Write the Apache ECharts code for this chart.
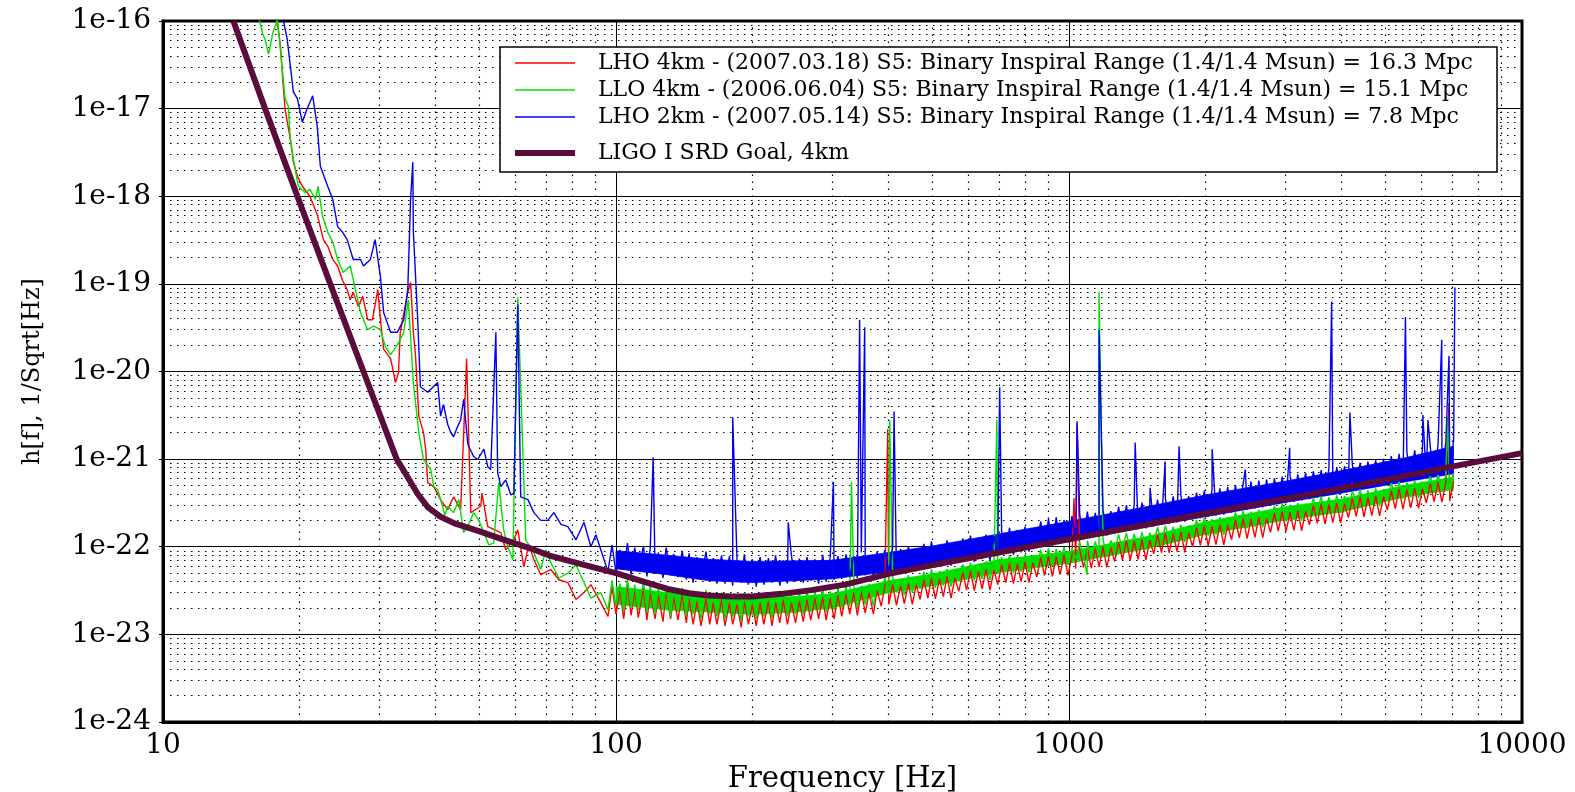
<!DOCTYPE html>
<html>
<head>
<meta charset="utf-8">
<script src="https://cdn.jsdelivr.net/npm/echarts@6/dist/echarts.min.js"></script>
<style>
html,body{margin:0;padding:0;background:#fff;}
#chart{width:1575px;height:792px;}
</style>
</head>
<body>
<div id="chart"></div>
<script>
// ---------------- DATA ----------------
const seriesNames = [
  'LHO 4km - (2007.03.18) S5: Binary Inspiral Range (1.4/1.4 Msun) = 16.3 Mpc',
  'LLO 4km - (2006.06.04) S5: Binary Inspiral Range (1.4/1.4 Msun) = 15.1 Mpc',
  'LHO 2km - (2007.05.14) S5: Binary Inspiral Range (1.4/1.4 Msun) = 7.8 Mpc',
  'LIGO I SRD Goal, 4km'
];
const minorMultipliers = [2, 3, 4, 5, 6, 7, 8, 9];
const xDecades = [10, 100, 1000];
const yDecades = [1e-24, 1e-23, 1e-22, 1e-21, 1e-20, 1e-19, 1e-18, 1e-17];

// Low-frequency parts of each spectrum: [Hz, 1/sqrt(Hz)]
const lho4kmLow = [[17.7,1.37e-16],[18.15,5.5e-17],[18.4,2.0e-17],[18.6,9.9e-18],[19.1,4.5e-18],[19.4,2.45e-18],[19.8,1.7e-18],[20.3,1.3e-18],[21.1,1.0e-18],[21.9,6.2e-19],[22.6,3.2e-19],[23.1,2.7e-19],[23.7,1.9e-19],[24.3,1.6e-19],[24.9,1.1e-19],[25.5,8.6e-20],[25.9,6.6e-20],[26.3,8.0e-20],[27.0,5.5e-20],[27.6,7.2e-20],[28.3,3.9e-20],[29.0,3.9e-20],[29.8,8.6e-20],[30.2,3.9e-20],[30.7,1.8e-20],[31.8,1.4e-20],[32.6,7.5e-21],[33.1,9.7e-21],[33.4,2.8e-20],[34.7,8.0e-20],[35.2,1.04e-19],[35.7,2.8e-20],[36.1,1.5e-20],[36.7,3.1e-21],[37.6,2.0e-21],[38.0,1.3e-21],[38.4,5.4e-22],[39.6,4.85e-22],[41.0,3.45e-22],[42.5,2.65e-22],[43.8,3.7e-22],[45.4,2.65e-22],[47.8,2.45e-22],[50.3,2.9e-22],[52.1,1.7e-22],[55.7,1.45e-22],[57.1,9.2e-23],[59.5,1.2e-22],[60.7,1.56e-22],[62.6,5.9e-23],[64.2,1.05e-22],[65.9,7.1e-23],[68.2,4.8e-23],[71.8,5.5e-23],[74.8,4.2e-23],[78.3,3.9e-23],[81.6,2.5e-23],[85.0,3.0e-23],[88.0,3.7e-23],[92.6,2.3e-23]];
const llo4kmLow = [[16.2,1.2e-16],[16.6,7.1e-17],[16.8,6.2e-17],[17.1,4.2e-17],[17.25,5.2e-17],[17.5,7.5e-17],[17.9,1.05e-16],[18.15,4.8e-17],[18.4,2.35e-17],[18.6,1.3e-17],[18.9,1.07e-17],[19.1,4.5e-18],[19.4,2.65e-18],[19.9,1.3e-18],[20.6,1.1e-18],[21.1,1.2e-18],[21.7,9.2e-19],[22.0,1.3e-18],[22.5,5.9e-19],[23.1,3.9e-19],[23.7,3.0e-19],[24.3,1.9e-19],[25.0,1.35e-19],[25.9,1.6e-19],[26.6,8.6e-20],[27.3,4.7e-20],[28.3,3.0e-20],[29.2,3.3e-20],[30.2,3.0e-20],[31.0,1.9e-20],[31.8,1.56e-20],[32.9,2.0e-20],[34.0,2.8e-20],[34.8,6.6e-20],[35.7,7.5e-21],[36.7,2.0e-21],[37.6,9.9e-22],[39.0,7.6e-22],[39.6,4.85e-22],[40.4,4.5e-22],[41.0,3.45e-22],[41.9,2.3e-22],[42.5,2.9e-22],[43.8,2.45e-22],[45.0,3.45e-22],[46.1,1.45e-22],[47.3,1.8e-22],[48.5,2.45e-22],[49.8,2.0e-22],[51.1,1.45e-22],[52.4,1.05e-22],[53.7,1.1e-22],[56.5,1.56e-22],[57.7,1.0e-22],[59.2,7.1e-23],[63.2,1.2e-22],[65.9,8.5e-23],[68.2,5.5e-23],[70.0,9.2e-23],[71.8,6.6e-23],[74.8,4.4e-23],[78.3,5.0e-23],[81.6,6.2e-23],[85.0,3.9e-23],[88.0,2.6e-23],[92.6,3.0e-23]];
const lho2kmLow = [[18.2,1.4e-16],[18.8,6.2e-17],[19.1,3.1e-17],[19.4,1.55e-17],[19.8,1.3e-17],[20.3,7.0e-18],[20.8,9.9e-18],[21.4,1.4e-17],[21.9,6.3e-18],[22.25,2.2e-18],[23.1,1.3e-18],[23.7,9.2e-19],[24.3,4.5e-19],[24.9,3.9e-19],[25.5,3.2e-19],[26.3,1.9e-19],[27.3,1.9e-19],[27.7,1.6e-19],[28.7,1.9e-19],[29.4,3.2e-19],[30.2,1.2e-19],[30.7,4.7e-20],[31.8,2.8e-20],[32.9,2.8e-20],[34.0,3.9e-20],[34.7,8.6e-20],[35.2,9.2e-19],[35.6,2.45e-18],[35.7,3.9e-19],[36.5,3.9e-20],[37.0,6.7e-21],[38.4,5.8e-21],[40.4,7.5e-21],[41.0,3.1e-21],[41.6,4.2e-21],[42.5,2.5e-21],[43.2,2.0e-21],[43.8,1.8e-21],[44.7,2.35e-21],[45.4,2.8e-21],[46.1,4.8e-21],[47.1,1.47e-21],[48.5,1.07e-21],[49.5,9.9e-22],[51.1,1.3e-21],[52.1,8.2e-22],[52.9,7.6e-22],[54.8,7.0e-22],[55.7,4.85e-22],[57.1,5.8e-22],[58.6,3.9e-22],[59.5,4.1e-22],[61.6,3.7e-22],[63.9,3.45e-22],[65.9,2.45e-22],[68.2,2.0e-22],[70.7,2.0e-22],[72.9,2.45e-22],[75.6,1.8e-22],[78.3,1.7e-22],[81.6,1.2e-22],[85.0,1.9e-22],[88.0,1.0e-22],[90.3,1.37e-22],[92.6,9.2e-23]];

// Dense noise band, 96 Hz .. 7 kHz: shared frequencies [Hz]
const bandFreq = [
  96,98,100,102,104,106,108,110,112,115,
  117,119,122,124,127,129,132,134,137,140,
  143,145,148,151,154,158,161,164,167,171,
  174,178,181,185,189,192,196,200,204,208,
  212,217,221,225,230,234,239,244,249,254,
  259,264,269,275,280,286,291,297,303,309,
  315,322,328,335,341,348,355,362,370,377,
  385,392,400,408,416,425,433,442,451,460,
  469,478,488,497,507,518,528,538,549,560,
  571,583,594,606,618,631,643,656,669,683,
  696,710,725,739,754,769,784,800,816,832,
  849,866,883,901,919,937,956,975,995,1015,
  1035,1056,1077,1098,1120,1143,1165,1189,1212,1237,
  1261,1287,1312,1339,1365,1393,1421,1449,1478,1508,
  1538,1568,1600,1632,1664,1698,1732,1766,1801,1837,
  1874,1912,1950,1989,2029,2069,2111,2153,2196,2240,
  2285,2330,2377,2424,2473,2522,2573,2624,2677,2730,
  2785,2841,2897,2955,3014,3075,3136,3199,3263,3328,
  3395,3463,3532,3603,3675,3748,3823,3900,3978,4057,
  4138,4221,4306,4392,4480,4569,4661,4754,4849,4946,
  5045,5146,5249,5354,5461,5570,5682,5795,5911,6029,
  6150,6273,6398,6526,6657,6790,6926,7064
];
// Band values in units of 1e-23 /sqrt(Hz)
const BAND_UNIT = 1e-23;
const lho4kmBand = [
  1.6,3.5,1.7,3.2,1.5,3.7,1.65,3.3,1.55,3.4,
  1.45,3.0,1.5,2.8,1.4,3.1,1.5,2.7,1.45,2.9,
  1.35,2.6,1.3,2.4,1.25,2.6,1.3,2.3,1.3,2.5,
  1.25,2.3,1.3,2.2,1.2,2.4,1.3,2.2,1.25,2.3,
  1.3,2.4,1.25,2.3,1.35,2.5,1.3,2.3,1.35,2.4,
  1.4,2.5,1.45,2.6,1.5,2.7,1.45,2.6,1.5,2.8,
  1.6,2.9,1.7,3.0,1.65,3.1,1.75,3.0,1.7,3.2,
  2.1,3.5,2.2,3.7,2.15,3.6,2.25,3.8,2.2,3.7,
  2.5,4.2,2.6,4.4,2.55,4.3,2.7,4.6,2.6,4.4,
  3.1,5.1,3.2,5.3,3.15,5.2,3.3,5.5,3.2,5.4,
  3.7,6.2,3.9,6.5,3.8,6.4,4.0,6.7,3.9,6.6,
  4.5,7.5,4.7,7.8,4.6,7.7,4.8,8.1,4.7,7.9,
  5.6,9.3,5.8,9.7,5.7,9.5,5.9,10.0,5.8,9.8,
  6.8,11.3,7.1,11.8,7.0,11.6,7.2,12.2,7.1,11.9,
  8.3,13.8,8.6,14.3,8.5,14.1,8.8,14.8,8.6,14.5,
  10.0,16.7,10.4,17.4,10.2,17.1,10.6,17.9,10.5,17.6,
  12.1,20.2,12.6,21.0,12.4,20.6,12.8,21.6,12.7,21.2,
  14.6,24.2,15.1,25.2,14.9,24.8,15.4,25.9,15.2,25.5,
  17.8,29.6,18.5,30.8,18.2,30.2,18.8,31.6,18.6,31.1,
  21.5,35.6,22.3,37.0,21.9,36.4,22.7,38.0,22.5,37.4,
  26.3,43.7,27.3,45.5,26.9,44.8,27.8,46.7,27.5,46.0,
  31.6,52.5,32.8,54.6,32.3,53.8,33.4,56.0
];
const llo4kmBand = [
  1.9,4.1,2.1,3.8,1.8,4.3,2.0,3.7,1.9,4.0,
  1.8,3.6,1.7,3.3,1.9,3.5,1.6,3.2,1.8,3.4,
  1.6,3.1,1.7,2.9,1.5,3.2,1.7,2.8,1.6,3.0,
  1.5,2.9,1.6,2.8,1.4,3.0,1.6,2.7,1.5,2.9,
  1.6,3.0,1.5,2.9,1.7,3.1,1.6,2.8,1.7,3.0,
  1.7,3.2,1.8,3.0,1.9,3.3,1.8,3.1,1.9,3.4,
  2.0,3.5,2.1,3.7,2.0,3.6,2.2,3.8,2.1,3.7,
  2.8,4.4,2.9,4.6,3.0,4.3,2.8,4.7,3.0,4.5,
  3.3,5.2,3.5,5.5,3.4,5.3,3.6,5.6,3.5,5.4,
  4.0,6.3,4.2,6.6,4.1,6.4,4.3,6.8,4.2,6.6,
  4.9,7.6,5.1,8.0,5.0,7.8,5.2,8.2,5.1,8.0,
  6.0,9.2,6.2,9.6,6.1,9.4,6.3,9.9,6.2,9.6,
  7.3,11.2,7.6,11.8,7.5,11.5,7.8,12.1,7.6,11.8,
  8.9,13.8,9.2,14.4,9.1,14.0,9.4,14.8,9.3,14.5,
  10.8,16.7,11.2,17.4,11.0,17.0,11.4,17.9,11.3,17.5,
  13.1,20.3,13.6,21.2,13.4,20.7,13.8,21.7,13.7,21.3,
  15.9,24.6,16.5,25.7,16.2,25.1,16.8,26.3,16.6,25.8,
  19.1,29.5,19.8,30.8,19.5,30.1,20.2,31.6,19.9,31.0,
  23.3,36.1,24.2,37.6,23.8,36.8,24.7,38.6,24.3,37.9,
  28.0,43.4,29.1,45.3,28.6,44.2,29.7,46.4,29.2,45.5,
  34.7,53.1,36.0,55.4,35.4,54.1,36.7,56.7,36.1,55.6,
  41.5,63.8,43.0,66.5,42.3,65.0,44.0,68.0
];
const lho2kmBand = [
  5.2,10.5,5.0,9.2,5.5,11.0,4.8,9.8,5.3,10.2,
  4.6,9.5,4.9,8.6,4.4,9.8,4.7,8.3,4.5,9.0,
  4.2,8.4,3.9,7.6,4.3,8.8,4.0,7.4,3.8,8.0,
  3.8,7.8,3.6,7.0,3.9,8.2,3.7,7.2,3.5,7.6,
  3.7,7.4,3.9,8.0,3.6,7.0,3.8,7.8,4.0,7.3,
  3.9,7.6,4.1,7.2,3.8,8.1,4.0,7.5,4.2,7.8,
  4.3,8.2,4.5,7.8,4.4,8.6,4.7,8.0,4.6,8.8,
  5.0,9.2,5.2,9.8,4.9,9.4,5.4,10.2,5.3,9.6,
  5.7,10.8,6.0,11.5,5.8,10.6,6.2,11.8,6.1,11.2,
  6.6,12.5,6.9,13.4,6.7,12.8,7.2,13.8,7.0,13.2,
  7.9,15.2,8.3,16.4,8.1,15.6,8.6,17.0,8.8,16.2,
  9.8,19.5,10.4,20.8,10.1,21.6,10.8,20.2,11.2,22.4,
  11.8,23.5,12.3,25.2,12.6,24.4,13.1,26.0,13.4,25.5,
  14.2,28.5,14.8,29.8,15.3,30.5,15.8,31.8,16.2,31.0,
  17.0,34.5,17.8,36.2,18.3,37.5,18.9,38.4,19.4,37.8,
  20.5,41.5,21.2,43.8,22.0,45.2,22.6,46.5,23.3,47.8,
  24.5,50.5,25.6,53.0,26.4,55.5,27.3,56.8,28.2,58.5,
  29.5,60.5,30.6,63.0,31.8,65.5,32.6,67.2,33.8,69.5,
  35.0,72.5,36.5,75.0,38.0,78.5,39.2,81.0,40.6,83.5,
  42.5,87.0,44.0,90.5,45.8,94.0,47.2,97.5,48.8,101,
  50.5,108,52.5,115,54.0,120,56.0,126,58.0,131,
  60.5,138,63.0,146,65.5,155,68.0,165
];

// Solid core of the LLO and LHO-2km noise bands: lower / upper edge, 1e-23 units
const envFreq   = [100, 130, 160, 200, 250, 300, 400, 500, 700, 1000, 1500, 2000, 3000, 4000, 5500, 7060];
const llo4kmEnvLow = [2.2, 1.9, 1.8, 1.7, 1.8, 2.0, 3.0, 3.6, 5.1, 6.5, 9.6, 13.8, 20.2, 25, 37, 45];
const llo4kmEnvUp  = [3.5, 3.0, 2.7, 2.6, 2.7, 2.9, 4.1, 4.9, 7.1, 8.8, 13.2, 19.2, 28.5, 35, 50, 62];
const lho2kmEnvLow = [5.6, 4.8, 4.1, 3.9, 4.1, 4.3, 5.2, 6.0, 8.4, 11.5, 17, 22, 32, 41, 55, 68];
const lho2kmEnvUp  = [9.0, 8.0, 7.2, 6.8, 6.9, 7.0, 8.6, 10.2, 14, 19.5, 29, 39, 56, 74, 103, 140];

// Narrow spectral lines: [Hz, peak value]
const lho4kmSpikes = [[46.8,1.4e-20],[50.6,4.1e-22],[398,2.2e-21],[1026,3.6e-22],[1042,2.5e-21],[6900,4.4e-21]];
const llo4kmSpikes = [[55.1,5.4e-22],[60.7,7.0e-20],[331,5.5e-22],[402,2.8e-21],[693,2.8e-21],[1096,4.8e-23],[1165,8.1e-20],[6850,3.0e-21]];
const lho2kmSpikes = [[54.3,2.8e-20],[60.7,5.8e-20],[120.8,1.05e-21],[181,3.0e-21],[240,1.9e-22],[302,5.5e-22],[345,3.9e-20],[354,3.2e-20],[411,3.5e-21],[703,6.6e-21],[1042,2.7e-21],[1165,3.0e-20],[1400,1.55e-21],[1510,4.7e-22],[1630,9.4e-22],[1750,1.4e-21],[2070,1.3e-21],[2450,7.6e-22],[3070,1.35e-21],[3800,6.3e-20],[4170,3.4e-21],[5530,4.2e-20],[6040,3.2e-21],[6200,2.8e-21],[6650,2.3e-20],[6900,1.5e-20],[7110,9.1e-20]];

// LIGO I SRD goal curve
const srdGoal = [[14.3,1.0e-16],[16.8,1.0e-17],[19.8,1.0e-18],[23.4,1.0e-19],[27.7,1.0e-20],[32.8,1.0e-21],[34.5,6.5e-22],[36.5,4.0e-22],[38.5,2.8e-22],[41,2.2e-22],[44,1.85e-22],[50,1.5e-22],[56,1.22e-22],[64,9.8e-23],[72,7.8e-23],[85,6.2e-23],[100,5.0e-23],[115,4.0e-23],[130,3.3e-23],[145,2.95e-23],[160,2.78e-23],[180,2.7e-23],[200,2.7e-23],[232,2.9e-23],[270,3.2e-23],[320,3.7e-23],[400,4.9e-23],[500,6.2e-23],[700,8.6e-23],[1000,1.22e-22],[2000,2.4e-22],[3070,3.6e-22],[5000,5.8e-22],[7000,8.2e-22],[10000,1.17e-21]];

// ---------------- CHART ----------------
function buildSeries(low, band, spikes) {
  const pts = low.map(p => [p[0], p[1]]);
  const n = Math.min(bandFreq.length, band.length);
  for (let i = 0; i < n; i++) pts.push([bandFreq[i], band[i] * BAND_UNIT]);
  spikes.forEach(p => pts.push([p[0], p[1]]));
  pts.sort((a, b) => a[0] - b[0]);
  return pts;
}

const FONT = 'DejaVu Serif';
const XMIN = 10, XMAX = 10000;
// a hair below 1e-24 so that floating-point log10 still yields the 1e-24 tick
const YMIN = 0.99999e-24, YMAX = 1e-16;
const minorLines = [];
xDecades.forEach(d => minorMultipliers.forEach(m => minorLines.push({ coords: [[d * m, 1e-24], [d * m, 1e-16]] })));
yDecades.forEach(d => minorMultipliers.forEach(m => minorLines.push({ coords: [[XMIN, d * m], [XMAX, d * m]] })));

const colors = ['#ff0000', '#00e000', '#0000f0', '#5a0c3c'];

// Solid core of a noise band, drawn as polygons between envelope points
function coreSeries(low, up, color) {
  const data = [];
  for (let i = 0; i < envFreq.length - 1; i++) {
    data.push([envFreq[i], low[i] * BAND_UNIT, up[i] * BAND_UNIT,
               envFreq[i + 1], low[i + 1] * BAND_UNIT, up[i + 1] * BAND_UNIT]);
  }
  return {
    type: 'custom', silent: true, z: 2, data: data,
    encode: { x: [0, 3], y: [1, 2, 4, 5] },
    renderItem: function (params, api) {
      const p1 = api.coord([api.value(0), api.value(1)]);
      const p2 = api.coord([api.value(3), api.value(4)]);
      const p3 = api.coord([api.value(3), api.value(5)]);
      const p4 = api.coord([api.value(0), api.value(2)]);
      return { type: 'polygon', shape: { points: [p1, p2, p3, p4] },
        style: { fill: color, stroke: color, lineWidth: 0.8 } };
    }
  };
}
function traceSeries(i, data) {
  return { type: 'line', name: seriesNames[i], data: data, symbol: 'none', showSymbol: false,
    color: colors[i], lineStyle: { color: colors[i], width: 1.4 }, z: 2 };
}

const chart = echarts.init(document.getElementById('chart'), null, { renderer: 'canvas' });
const legendText = { fontFamily: FONT, fontSize: 22, color: '#000', lineHeight: 22, padding: [0, 0, 0, 18] };

const option = {
  animation: false,
  backgroundColor: '#ffffff',
  grid: { left: 163, right: 53, top: 21, bottom: 70, show: true, borderColor: '#000', borderWidth: 3,
    backgroundColor: 'transparent', containLabel: false, outerBoundsMode: 'none' },
  xAxis: {
    type: 'log', logBase: 10, min: XMIN, max: XMAX,
    axisLine: { show: true, lineStyle: { color: '#000', width: 3 } },
    axisTick: { show: false },
    axisLabel: { fontFamily: FONT, fontSize: 28, color: '#000', margin: 10, showMinLabel: true, showMaxLabel: true,
      hideOverlap: false, formatter: v => String(Math.round(v)) },
    splitLine: { show: true, lineStyle: { color: '#000', width: 1 } },
    name: 'Frequency [Hz]', nameLocation: 'middle', nameGap: 43, nameMoveOverlap: false,
    nameTextStyle: { fontFamily: FONT, fontSize: 29, color: '#000' }
  },
  yAxis: {
    type: 'log', logBase: 10, min: YMIN, max: YMAX,
    axisLine: { show: true, lineStyle: { color: '#000', width: 3 } },
    axisTick: { show: true, length: 4, lineStyle: { color: '#000', width: 1 } },
    axisLabel: { fontFamily: FONT, fontSize: 28, color: '#000', margin: 12, showMinLabel: true, showMaxLabel: true,
      hideOverlap: false, formatter: v => '1e' + Math.round(Math.log10(v)) },
    splitLine: { show: true, lineStyle: { color: '#000', width: 1 } },
    name: 'h[f], 1/Sqrt[Hz]', nameLocation: 'middle', nameGap: 118, nameRotate: 90, nameMoveOverlap: false,
    nameTextStyle: { fontFamily: FONT, fontSize: 24, color: '#000' }
  },
  legend: [
    { data: seriesNames.slice(0, 3), orient: 'vertical', left: 515, top: 52, padding: 0,
      icon: 'rect', itemWidth: 60, itemHeight: 1.5, itemGap: 5, selectedMode: false, textStyle: legendText },
    { data: [seriesNames[3]], orient: 'vertical', left: 515, top: 142, padding: 0,
      icon: 'rect', itemWidth: 60, itemHeight: 6, itemGap: 5, selectedMode: false, textStyle: legendText }
  ],
  graphic: [
    { type: 'rect', z: 3, shape: { x: 500, y: 47, width: 997, height: 125 },
      style: { fill: '#fff', stroke: '#000', lineWidth: 1.5 } }
  ],
  series: [
    { type: 'lines', coordinateSystem: 'cartesian2d', silent: true, z: 1, data: minorLines,
      lineStyle: { type: [1.5, 5.5], color: '#000', width: 1.2, opacity: 1 } },
    traceSeries(0, buildSeries(lho4kmLow, lho4kmBand, lho4kmSpikes)),
    coreSeries(llo4kmEnvLow, llo4kmEnvUp, colors[1]),
    traceSeries(1, buildSeries(llo4kmLow, llo4kmBand, llo4kmSpikes)),
    coreSeries(lho2kmEnvLow, lho2kmEnvUp, colors[2]),
    traceSeries(2, buildSeries(lho2kmLow, lho2kmBand, lho2kmSpikes)),
    { type: 'line', name: seriesNames[3], data: srdGoal, symbol: 'none', showSymbol: false,
      color: colors[3], lineStyle: { color: colors[3], width: 6 }, z: 2 }
  ]
};
chart.setOption(option);
</script>
</body>
</html>
